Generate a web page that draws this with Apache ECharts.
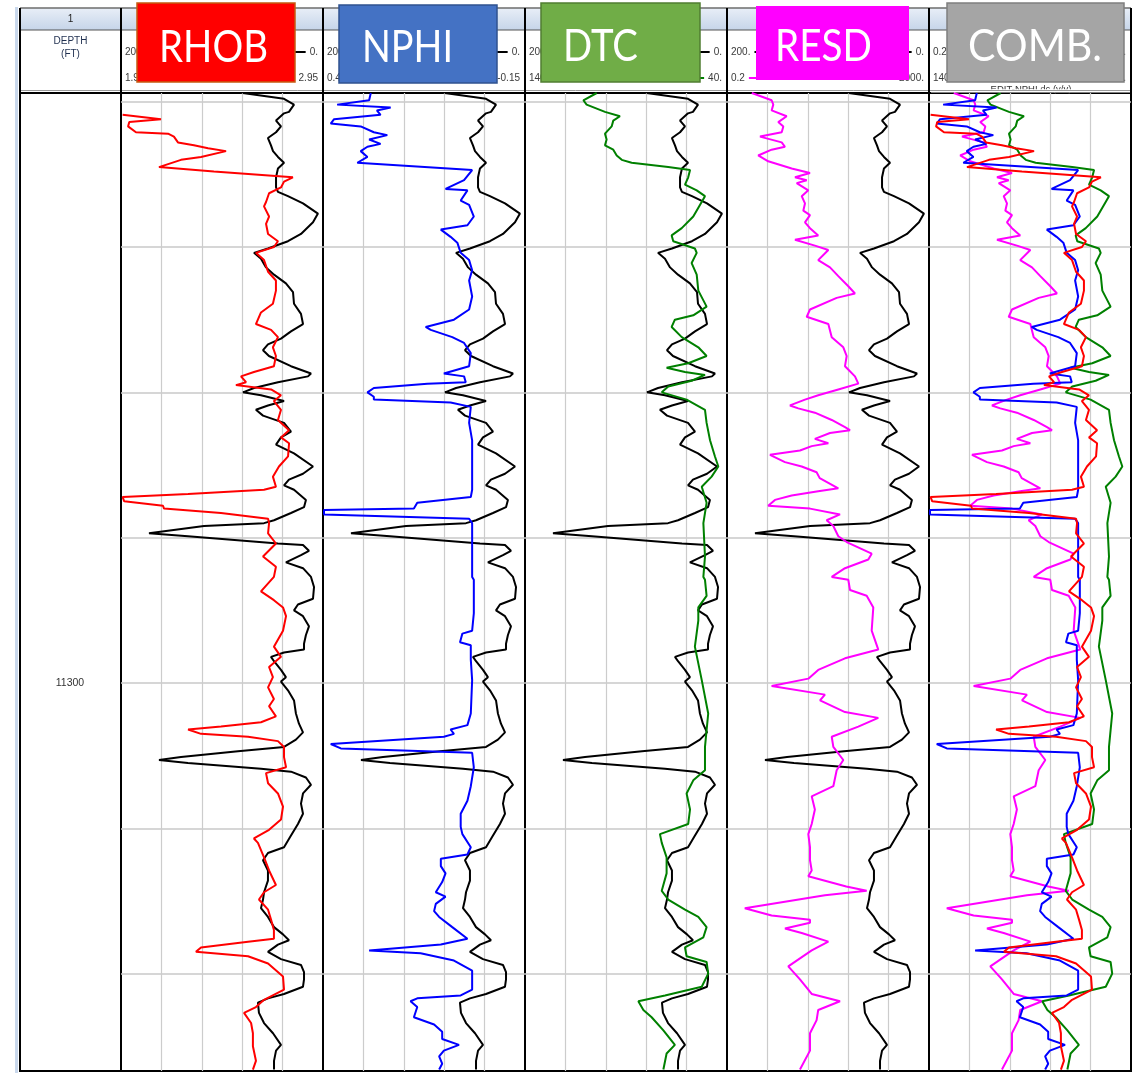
<!DOCTYPE html>
<html><head><meta charset="utf-8">
<script src="https://cdn.jsdelivr.net/npm/echarts@6/dist/echarts.min.js"></script>
<style>html,body{margin:0;padding:0;background:#fff}#c{width:1143px;height:1073px}</style>
</head><body><div id="c"></div><script>
// ---- data (depth ft, value) ----
const depthMin = 11259.4, depthMax = 11326.7;
const depthLabelStep = 50;

const grCurve = [[11259.4,79.5],[11259.8,38.6],[11260.2,28.7],[11260.7,33.7],[11260.8,38.6],[11261.3,46.5],[11261.7,41.6],[11262.1,46.5],[11262.5,54.5],[11263.0,51.5],[11263.4,49.5],[11263.8,44.6],[11264.2,38.6],[11264.6,44.6],[11265.2,46.5],[11265.9,46.5],[11266.2,44.6],[11266.5,34.7],[11267.0,19.8],[11267.7,5.0],[11268.3,9.9],[11269.1,21.8],[11269.6,34.7],[11270.1,54.5],[11270.4,68.3],[11270.8,61.4],[11271.4,56.4],[11271.9,48.5],[11272.5,36.7],[11273.1,29.7],[11273.9,28.7],[11274.6,21.8],[11275.3,19.8],[11275.8,31.7],[11276.3,41.6],[11276.7,54.5],[11277.1,59.4],[11277.5,53.5],[11278.2,31.7],[11278.7,11.9],[11278.9,14.9],[11279.3,44.6],[11279.7,68.3],[11280.0,79.2],[11280.2,61.4],[11280.6,38.6],[11280.9,54.5],[11281.2,66.4],[11281.6,59.4],[11282.1,38.6],[11282.7,31.7],[11283.1,41.6],[11283.6,46.5],[11284.2,28.7],[11285.1,9.9],[11285.6,19.8],[11286.0,33.7],[11286.4,38.6],[11286.7,28.7],[11287.4,16.9],[11287.9,18.8],[11288.3,31.7],[11288.8,48.5],[11289.0,58.4],[11289.2,117.8],[11289.7,172.3],[11289.9,133.7],[11290.4,44.6],[11290.5,19.8],[11290.9,13.9],[11291.2,21.8],[11291.7,36.7],[11292.1,19.8],[11292.7,11.9],[11293.4,8.9],[11294.2,9.9],[11294.6,24.8],[11295.0,28.7],[11295.4,19.8],[11296.1,13.9],[11296.7,16.9],[11297.3,18.8],[11297.7,18.8],[11297.9,38.6],[11298.2,51.5],[11298.5,48.5],[11299.1,41.6],[11299.6,36.7],[11299.9,41.6],[11300.5,34.7],[11301.2,28.7],[11302.1,26.8],[11302.8,23.8],[11303.4,19.8],[11303.9,26.8],[11304.4,38.6],[11304.7,84.2],[11305.1,140.6],[11305.3,162.4],[11305.5,133.7],[11305.9,61.4],[11306.1,31.7],[11306.5,16.9],[11307.0,11.9],[11307.6,19.8],[11308.3,21.8],[11309.0,19.8],[11309.7,24.8],[11310.5,31.7],[11311.3,38.6],[11311.7,54.5],[11312.2,59.4],[11312.9,54.5],[11313.6,54.5],[11314.4,58.4],[11314.9,59.4],[11315.5,61.4],[11316.1,54.5],[11316.8,48.5],[11317.3,39.6],[11317.7,33.7],[11318.0,44.6],[11318.5,54.5],[11319.0,41.6],[11319.4,21.8],[11319.9,18.8],[11320.4,18.8],[11320.9,19.8],[11321.4,38.6],[11321.7,54.5],[11322.0,64.4],[11322.7,63.4],[11323.4,58.4],[11324.1,49.5],[11324.9,41.6],[11325.3,46.5],[11326.0,48.5],[11326.6,48.5]];

const rhobCurve = [[11260.9,1.958],[11261.2,2.148],[11261.4,1.991],[11261.7,1.985],[11262.1,2.024],[11262.2,2.183],[11262.4,2.212],[11262.8,2.232],[11263.0,2.311],[11263.2,2.381],[11263.4,2.470],[11263.8,2.346],[11264.0,2.247],[11264.5,2.138],[11264.8,2.410],[11265.2,2.801],[11265.3,2.792],[11265.5,2.757],[11265.9,2.742],[11266.3,2.683],[11266.9,2.668],[11267.2,2.658],[11267.9,2.683],[11268.4,2.668],[11269.1,2.678],[11269.6,2.727],[11270.0,2.707],[11270.4,2.618],[11270.9,2.658],[11271.7,2.678],[11272.3,2.717],[11273.0,2.717],[11273.9,2.702],[11274.5,2.643],[11275.3,2.618],[11275.7,2.693],[11276.2,2.727],[11276.9,2.702],[11277.5,2.717],[11278.2,2.707],[11278.6,2.608],[11278.9,2.544],[11279.3,2.569],[11279.5,2.519],[11279.8,2.693],[11280.2,2.742],[11280.6,2.707],[11281.2,2.742],[11281.9,2.727],[11282.6,2.782],[11283.1,2.742],[11283.5,2.782],[11284.4,2.777],[11285.1,2.732],[11285.8,2.702],[11286.5,2.717],[11286.7,2.658],[11287.0,2.282],[11287.2,1.958],[11287.5,1.966],[11287.8,2.158],[11288.0,2.163],[11288.3,2.445],[11288.7,2.678],[11289.0,2.683],[11289.7,2.678],[11290.4,2.717],[11291.3,2.653],[11292.0,2.717],[11292.7,2.707],[11293.7,2.643],[11294.3,2.707],[11294.8,2.752],[11295.4,2.767],[11296.4,2.752],[11297.5,2.707],[11298.2,2.742],[11298.9,2.683],[11299.6,2.702],[11300.3,2.678],[11301.1,2.707],[11301.6,2.683],[11302.3,2.717],[11302.7,2.643],[11303.0,2.445],[11303.2,2.282],[11303.5,2.346],[11303.7,2.579],[11304.0,2.727],[11304.4,2.757],[11305.1,2.757],[11305.8,2.767],[11306.2,2.668],[11306.9,2.678],[11307.6,2.727],[11308.5,2.752],[11309.4,2.742],[11310.1,2.683],[11310.7,2.608],[11311.0,2.628],[11312.0,2.658],[11312.9,2.683],[11313.9,2.717],[11314.4,2.658],[11314.9,2.633],[11315.6,2.678],[11316.3,2.693],[11317.0,2.707],[11317.6,2.707],[11317.8,2.579],[11318.2,2.346],[11318.5,2.321],[11318.8,2.579],[11319.3,2.678],[11320.2,2.752],[11321.1,2.757],[11321.8,2.658],[11322.3,2.618],[11322.7,2.559],[11323.4,2.594],[11324.1,2.603],[11325.0,2.603],[11326.0,2.618],[11326.6,2.603]];

const nphiCurve = [[11259.4,0.308],[11259.9,0.313],[11260.2,0.408],[11260.4,0.249],[11260.6,0.290],[11260.9,0.279],[11261.2,0.417],[11261.5,0.427],[11261.7,0.338],[11262.1,0.299],[11262.3,0.259],[11262.6,0.313],[11262.9,0.279],[11263.1,0.318],[11263.4,0.338],[11263.8,0.318],[11264.2,0.348],[11264.7,0.007],[11265.4,0.031],[11266.0,0.086],[11266.1,0.021],[11266.8,0.041],[11267.1,0.016],[11267.9,0.002],[11268.5,0.021],[11268.8,0.100],[11269.3,0.071],[11269.7,0.051],[11270.4,0.041],[11270.9,0.016],[11271.6,0.007],[11272.3,0.016],[11273.4,0.007],[11274.3,0.016],[11275.0,0.061],[11275.5,0.145],[11275.7,0.130],[11276.2,0.066],[11276.6,0.031],[11277.3,0.011],[11278.2,0.016],[11278.7,0.091],[11278.9,0.031],[11279.3,0.026],[11279.4,0.140],[11279.7,0.299],[11280.0,0.318],[11280.3,0.299],[11280.5,0.299],[11280.7,0.071],[11281.0,0.011],[11282.1,0.016],[11283.3,0.007],[11284.4,0.007],[11286.7,0.007],[11287.2,0.011],[11287.6,0.170],[11288.0,0.180],[11288.1,0.447],[11288.4,0.447],[11288.7,0.016],[11289.0,0.007],[11292.7,0.007],[11292.9,0.002],[11295.2,0.002],[11296.4,0.007],[11296.6,0.036],[11297.2,0.043],[11297.4,0.011],[11298.4,0.011],[11299.8,0.007],[11302.1,0.011],[11302.9,0.021],[11303.2,0.071],[11303.5,0.061],[11303.7,0.091],[11304.2,0.427],[11304.5,0.397],[11304.8,0.007],[11305.8,0.002],[11307.1,0.011],[11308.1,0.021],[11309.0,0.041],[11309.9,0.041],[11310.4,0.036],[11311.3,0.011],[11311.8,0.021],[11312.1,0.100],[11312.6,0.100],[11313.1,0.086],[11313.7,0.096],[11314.4,0.115],[11314.7,0.086],[11315.2,0.115],[11315.7,0.120],[11316.1,0.105],[11316.8,0.066],[11317.6,0.021],[11318.0,0.100],[11318.4,0.313],[11318.6,0.160],[11319.1,0.061],[11319.8,0.007],[11321.1,0.007],[11321.5,0.041],[11321.7,0.170],[11321.9,0.190],[11322.3,0.170],[11323.0,0.180],[11323.5,0.120],[11324.0,0.096],[11324.5,0.096],[11324.9,0.046],[11325.3,0.091],[11325.7,0.105],[11326.2,0.096],[11326.6,0.105]];

const dtcCurve = [[11259.4,104.5],[11259.9,111.1],[11260.2,109.5],[11260.7,100.4],[11261.0,93.0],[11261.3,96.3],[11261.7,97.1],[11262.2,100.4],[11262.6,99.6],[11263.0,100.4],[11263.3,96.3],[11263.7,94.6],[11264.0,92.1],[11264.2,87.2],[11264.5,69.1],[11264.7,58.3],[11265.2,59.2],[11265.7,60.8],[11266.1,55.0],[11266.5,50.9],[11267.1,53.4],[11267.9,56.7],[11268.7,62.4],[11269.2,67.4],[11269.6,66.6],[11270.1,55.9],[11270.4,55.0],[11271.1,57.5],[11271.9,55.0],[11273.0,54.2],[11274.1,50.1],[11274.7,56.7],[11275.0,65.8],[11275.5,67.4],[11276.2,62.4],[11276.9,54.2],[11277.5,50.1],[11278.0,59.2],[11278.3,69.9],[11278.6,60.8],[11278.8,50.9],[11279.2,57.5],[11279.6,69.1],[11280.0,72.3],[11280.5,60.0],[11281.2,50.9],[11282.1,50.1],[11283.3,48.4],[11284.4,46.0],[11285.1,44.3],[11285.8,47.6],[11286.5,52.5],[11287.6,50.1],[11289.0,51.7],[11291.3,50.9],[11292.7,51.7],[11292.9,50.9],[11294.0,50.1],[11294.8,54.2],[11295.7,54.2],[11297.5,55.9],[11299.8,52.5],[11302.1,49.3],[11304.4,50.9],[11306.0,50.9],[11306.7,56.7],[11307.6,60.0],[11308.7,58.3],[11309.7,59.2],[11310.4,73.2],[11311.0,72.3],[11312.0,69.9],[11313.1,69.9],[11314.3,72.3],[11314.9,69.1],[11315.6,60.8],[11316.1,54.2],[11316.8,50.1],[11317.5,51.7],[11318.2,60.8],[11318.8,60.0],[11319.2,50.1],[11320.0,49.3],[11320.9,52.5],[11321.5,70.7],[11321.9,83.9],[11322.5,81.4],[11323.0,77.3],[11323.9,71.5],[11324.9,65.8],[11325.5,69.9],[11326.6,71.5]];

const resdCurve = [[11259.4,0.62],[11259.9,1.53],[11260.2,1.65],[11260.6,1.53],[11261.0,3.04],[11261.4,2.07],[11261.7,2.61],[11262.1,2.42],[11262.4,0.90],[11262.8,2.42],[11263.1,2.81],[11263.3,1.53],[11263.7,0.83],[11264.1,1.31],[11264.6,3.82],[11264.9,8.8],[11265.2,4.44],[11265.4,7.57],[11265.6,4.80],[11266.1,8.15],[11266.5,6.03],[11267.0,7.00],[11267.5,6.49],[11267.8,8.8],[11268.3,7.00],[11268.7,8.8],[11269.2,12.8],[11269.5,4.44],[11269.9,11.0],[11270.2,20.3],[11270.9,12.8],[11271.4,21.9],[11272.0,32.0],[11272.7,50.5],[11273.2,68.4],[11273.5,29.7],[11274.3,8.8],[11274.8,7.57],[11275.3,20.3],[11276.2,23.7],[11276.9,40.2],[11277.5,46.9],[11278.2,43.4],[11278.9,68.4],[11279.4,79.6],[11279.8,32.0],[11280.2,12.8],[11280.5,7.00],[11280.9,3.53],[11281.1,5.16],[11281.4,11.0],[11281.9,23.7],[11282.4,43.4],[11282.6,54.5],[11282.8,21.9],[11283.2,11.0],[11283.5,20.3],[11283.7,9.51],[11284.0,5.57],[11284.3,1.42],[11284.8,2.81],[11285.1,6.03],[11285.5,11.9],[11285.9,13.7],[11286.6,32.0],[11286.8,12.8],[11287.1,3.82],[11287.4,1.78],[11287.8,1.31],[11288.0,8.8],[11288.4,34.6],[11288.8,18.8],[11289.2,25.5],[11289.9,32.0],[11290.3,46.9],[11291.1,146.6],[11291.5,125.6],[11292.1,43.4],[11292.7,23.7],[11292.9,50.5],[11293.6,54.5],[11294.0,116.7],[11294.8,157.8],[11296.4,146.6],[11297.7,198],[11298.3,43.4],[11299.1,12.8],[11299.7,8.15],[11300.2,1.53],[11300.8,17.4],[11301.2,13.9],[11302.0,43.4],[11302.4,198],[11303.0,79.6],[11303.7,23.7],[11304.4,25.5],[11305.3,40.2],[11306.0,29.7],[11307.1,25.5],[11307.8,9.51],[11308.7,11.0],[11309.7,9.51],[11310.4,8.15],[11311.3,8.8],[11312.2,8.8],[11312.9,9.51],[11313.3,8.15],[11314.0,46.0],[11314.3,116.7],[11314.6,17.4],[11315.5,0.45],[11316.0,1.53],[11316.3,8.8],[11316.5,8.8],[11316.9,2.81],[11317.2,6.03],[11317.8,20.3],[11318.4,9.51],[11319.5,3.27],[11320.4,5.57],[11321.4,9.51],[11321.9,34.6],[11322.5,12.8],[11323.2,11.9],[11324.1,8.8],[11325.3,8.8],[11326.6,5.57]];

const trackTitles = ['RHOB', 'NPHI', 'DTC', 'RESD', 'COMB.'];
const trackCurves = [['gr','rhob'], ['gr','nphi'], ['gr','dtc'], ['gr','resd'], ['resd','dtc','nphi','rhob']];
const scaleLabels = [
  [['200.', '0.', 'gr'], ['1.95', '2.95', 'rhob']],
  [['200.', '0.', 'gr'], ['0.45', '-0.15', 'nphi']],
  [['200.', '0.', 'gr'], ['140.', '40.', 'dtc']],
  [['200.', '0.', 'gr'], ['0.2', '2000.', 'resd']],
  [['0.2', '2000.', 'resd'], ['140', '40.', 'dtc']]
];
const headerNote = 'EDIT-NPHI.dc (v/v)';

// ---- scales & styles ----
const curveScales = {
  gr:   {type: 'value', min: 0, max: 200, inverse: true},
  rhob: {type: 'value', min: 1.95, max: 2.95, inverse: false},
  nphi: {type: 'value', min: -0.15, max: 0.45, inverse: true},
  dtc:  {type: 'value', min: 40, max: 140, inverse: true},
  resd: {type: 'log', min: 0.2, max: 2000, logBase: 10, inverse: false}
};
const curveData = {gr: grCurve, rhob: rhobCurve, nphi: nphiCurve, dtc: dtcCurve, resd: resdCurve};
const curveColor = {gr: '#000000', rhob: '#ff0000', nphi: '#0000ff', dtc: '#008000', resd: '#ff00ff'};

const plotTop = 93, plotH = 978;
const depthLeft = 20, depthW = 101, trackLeft0 = 121, trackW = 202;
const boxes = [
  {x: 137, y: 3, w: 158, h: 79, fill: '#ff0000', stroke: '#c55a11', tx: 213.5, ty: 45.5, tw: 109},
  {x: 339, y: 5, w: 158, h: 78, fill: '#4472c4', stroke: '#2f528f', tx: 407.5, ty: 45, tw: 91},
  {x: 541, y: 3, w: 159, h: 79, fill: '#70ad47', stroke: '#507e32', tx: 600.5, ty: 44.5, tw: 75},
  {x: 756, y: 6, w: 153, h: 74, fill: '#ff00ff', stroke: null, tx: 823.5, ty: 44, tw: 97},
  {x: 947, y: 3, w: 177, h: 79, fill: '#a5a5a5', stroke: '#7f7f7f', tx: 1035, ty: 44.5, tw: 134}
];

const mctx = document.createElement('canvas').getContext('2d');
function textW(t, font) { mctx.font = font; return mctx.measureText(t).width; }

const grids = [], xAxes = [], yAxes = [], series = [];
const yBase = {type: 'value', inverse: true, min: depthMin, max: depthMax,
  axisLine: {show: false}, axisTick: {show: false}};

// depth track
grids.push({left: depthLeft, top: plotTop, width: depthW, height: plotH, show: true,
  borderColor: '#000', borderWidth: 2, backgroundColor: 'transparent'});
xAxes.push({gridIndex: 0, type: 'value', min: 0, max: 1, show: false});
yAxes.push(Object.assign({}, yBase, {gridIndex: 0, position: 'left', splitLine: {show: false},
  axisLabel: {show: true, margin: -50, align: 'center', color: '#333', fontSize: 10.5,
    fontFamily: 'Liberation Sans',
    formatter: v => (Math.abs(v % depthLabelStep) < 1e-6 ? String(v) : '')}}));

for (let t = 0; t < 5; t++) {
  const gi = t + 1;
  grids.push({left: trackLeft0 + trackW * t, top: plotTop, width: trackW, height: plotH, show: true,
    borderColor: '#000', borderWidth: 2, backgroundColor: 'transparent'});
  yAxes.push(Object.assign({}, yBase, {gridIndex: gi, axisLabel: {show: false},
    splitLine: {show: true, showMinLine: false, showMaxLine: false, lineStyle: {color: '#c8c8c8', width: 1.5}}}));
  xAxes.push({gridIndex: gi, type: 'value', min: 0, max: 5, interval: 1,
    axisLine: {show: false}, axisTick: {show: false}, axisLabel: {show: false},
    splitLine: {show: true, showMinLine: false, showMaxLine: false, lineStyle: {color: '#cccccc', width: 1.2}}});
  trackCurves[t].forEach(k => {
    const xi = xAxes.length;
    xAxes.push(Object.assign({gridIndex: gi, show: false}, curveScales[k]));
    series.push({type: 'line', xAxisIndex: xi, yAxisIndex: gi, symbol: 'none', showSymbol: false,
      silent: true, animation: false, clip: true,
      lineStyle: {color: curveColor[k], width: 2},
      data: curveData[k].map(p => [p[1], p[0]])});
  });
}

// ---- header graphics ----
const g = [];
const edges = [20, 121, 323, 525, 727, 929, 1131];
g.push({type: 'rect', shape: {x: 20, y: 8, width: 1111, height: 22},
  style: {fill: new echarts.graphic.LinearGradient(0, 0, 0, 1, [{offset: 0, color: '#e8eef7'}, {offset: 1, color: '#c6d5e9'}])}});
g.push({type: 'rect', shape: {x: 15, y: 7, width: 3, height: 1066}, style: {fill: '#c9d8ec'}});
g.push({type: 'line', shape: {x1: 20, y1: 8, x2: 1131, y2: 8}, style: {stroke: '#6d6d6d', lineWidth: 1.5}});
g.push({type: 'line', shape: {x1: 20, y1: 30, x2: 1131, y2: 30}, style: {stroke: '#555', lineWidth: 1.2}});
g.push({type: 'line', shape: {x1: 20, y1: 90.5, x2: 1131, y2: 90.5}, style: {stroke: '#9a9a9a', lineWidth: 1}});
const tfont = (s) => ({fontSize: s, fontFamily: 'Liberation Sans'});
function txt(x, y, s, align, color, size, vAlign) {
  return {type: 'text', x: x, y: y, style: Object.assign({text: s, fill: color || '#333',
    align: align, textAlign: align, verticalAlign: vAlign || 'middle', textVerticalAlign: vAlign || 'middle'}, tfont(size || 10))};
}
g.push(txt(70.5, 19.5, '1', 'center', '#222', 10));
g.push(txt(70.5, 41, 'DEPTH', 'center', '#1f2f4f', 10));
g.push(txt(70.5, 54, '(FT)', 'center', '#1f2f4f', 10));
const rowY = [52, 78];
for (let t = 0; t < 5; t++) {
  const L = edges[t + 1], R = edges[t + 2];
  scaleLabels[t].forEach((row, r) => {
    const y = rowY[r];
    const wl = textW(row[0], '10px Liberation Sans'), wr = textW(row[1], '10px Liberation Sans');
    g.push(txt(L + 4, y, row[0], 'left', '#3a3a3a', 10));
    g.push(txt(R - 5, y, row[1], 'right', '#3a3a3a', 10));
    g.push({type: 'line', shape: {x1: L + 4 + wl + 4, y1: y, x2: R - 5 - wr - 4, y2: y},
      style: {stroke: curveColor[row[2]], lineWidth: 2}});
  });
}
g.push(txt(1031, 84, headerNote, 'center', '#333', 9.5, 'top'));
g.push({type: 'rect', z: 50, shape: {x: 931, y: 89.2, width: 199, height: 3.3}, style: {fill: '#fff'}});
g.push({type: 'line', z: 51, shape: {x1: 929, y1: 90.5, x2: 1131, y2: 90.5}, style: {stroke: '#9a9a9a', lineWidth: 1}});
edges.forEach(x => g.push({type: 'line', z: 52, shape: {x1: x, y1: 8, x2: x, y2: 93}, style: {stroke: '#000', lineWidth: 2}}));

const boxFont = 'Lato';
const boxSize = 45;
boxes.forEach((b, i) => {
  g.push({type: 'rect', z: 60, shape: {x: b.x, y: b.y, width: b.w, height: b.h},
    style: {fill: b.fill, stroke: b.stroke || null, lineWidth: b.stroke ? 1.5 : 0}});
  const w = textW(trackTitles[i], boxSize + 'px ' + boxFont);
  g.push({type: 'text', z: 61, x: b.tx, y: b.ty + 2, scaleX: b.tw / w,
    style: {text: trackTitles[i], fill: '#fff', fontSize: boxSize, fontFamily: boxFont,
      align: 'center', textAlign: 'center', verticalAlign: 'middle', textVerticalAlign: 'middle'}});
});

const chart = echarts.init(document.getElementById('c'), null, {renderer: 'canvas'});
chart.setOption({
  animation: false,
  backgroundColor: '#fff',
  grid: grids, xAxis: xAxes, yAxis: yAxes, series: series,
  graphic: {elements: g}
});
</script></body></html>
